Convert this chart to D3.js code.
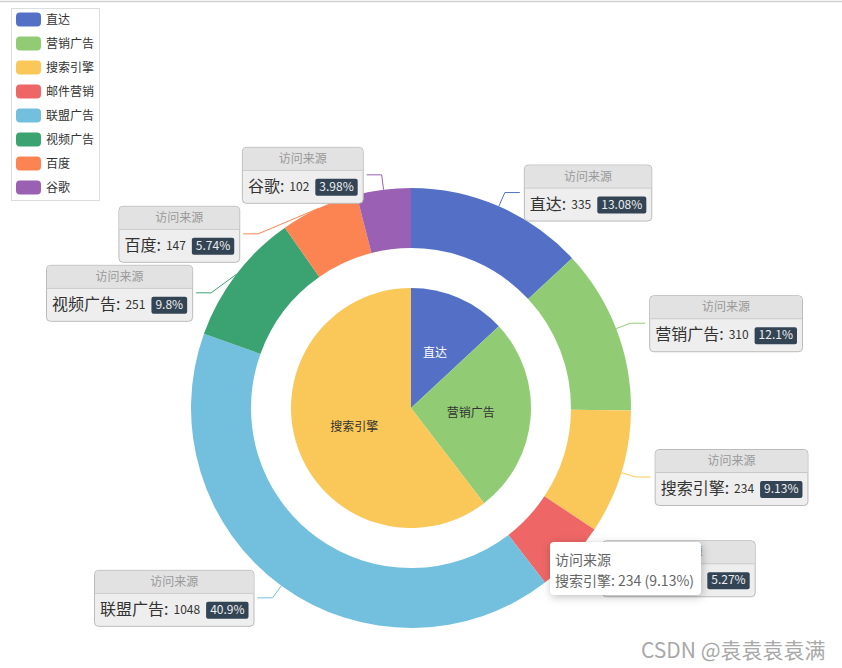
<!DOCTYPE html>
<html>
<head>
<meta charset="utf-8">
<script src="https://cdn.jsdelivr.net/npm/d3@7/dist/d3.min.js"></script>
<style>
  body { margin: 0; background: #fff; }
  svg { font-family: "Noto Sans CJK SC", "Noto Sans", sans-serif; }
</style>
</head>
<body>
<script>
const seriesName = "访问来源";
const innerNames = ["直达", "营销广告", "搜索引擎"];
const innerValues = [335, 679, 1548];
const outerNames = ["直达", "营销广告", "搜索引擎", "邮件营销", "联盟广告", "视频广告", "百度", "谷歌"];
const outerValues = [335, 310, 234, 135, 1048, 251, 147, 102];
const palette = ["#5470c6", "#91cc75", "#fac858", "#ee6666", "#73c0de", "#3ba272", "#fc8452", "#9a60b4"];
const hoverIndex = 2;          // slice under the mouse (tooltip)
const mouse = [540, 532];

const width = 842, height = 668;
const cx = 411, cy = 408;
const innerR = 120, ringR0 = 160, ringR1 = 220;

const color = d3.scaleOrdinal(outerNames, palette);

// percentages like echarts (largest remainder, 2 digits)
function percents(values) {
  const sum = d3.sum(values);
  const digits = 10000;
  const raw = values.map(v => v / sum * digits);
  const floors = raw.map(Math.floor);
  let left = digits - d3.sum(floors);
  const order = d3.range(raw.length).sort((a, b) => (raw[b] - floors[b]) - (raw[a] - floors[a]));
  for (let i = 0; i < left; i++) floors[order[i]]++;
  return floors.map(f => +(f / 100).toFixed(2));
}
const outerPer = percents(outerValues);

const svg = d3.select("body").append("svg")
  .attr("width", width).attr("height", height);

svg.append("line")
  .attr("x1", 0).attr("x2", width).attr("y1", 1.5).attr("y2", 1.5)
  .attr("stroke", "#d0d0d0").attr("stroke-width", 1.5);

const pie = d3.pie().sort(null).value(d => d.value);
const innerArcs = pie(innerNames.map((n, i) => ({ name: n, value: innerValues[i] })));
const outerArcs = pie(outerNames.map((n, i) => ({ name: n, value: outerValues[i], per: outerPer[i] })));

const g = svg.append("g").attr("transform", `translate(${cx},${cy})`);

// label layout
const len1 = 15, len2 = 15, boxH = 56, gapY = 59;
const labels = outerArcs.map(a => {
  const m = (a.startAngle + a.endAngle) / 2;
  const p0 = [Math.sin(m) * ringR1, -Math.cos(m) * ringR1];
  const p1 = [Math.sin(m) * (ringR1 + len1), -Math.cos(m) * (ringR1 + len1)];
  return { a, p0, p1, y: p1[1], right: p1[0] >= 0 };
});
[true, false].forEach(side => {
  const list = labels.filter(l => l.right === side).sort((a, b) => a.y - b.y);
  for (let i = 1; i < list.length; i++) {
    if (list[i].y < list[i - 1].y + gapY) {
      list[i].y = list[i - 1].y + gapY;
      const r = ringR1 + len1, dy = Math.min(Math.abs(list[i].y), r);
      const dx = Math.sqrt(r * r - dy * dy) - 5;
      list[i].p1 = [side ? dx : -dx, list[i].y];
    }
  }
});
labels.forEach(l => {
  l.p2 = [l.p1[0] + (l.right ? len2 : -len2), l.y];
});

// label lines (under the slices)
g.selectAll(".label-line").data(labels).join("polyline")
  .attr("class", "label-line")
  .attr("fill", "none")
  .attr("stroke", d => color(d.a.data.name))
  .attr("stroke-width", 1)
  .attr("points", d => [d.p0, d.p1, d.p2].map(p => p.join(",")).join(" "));

const ringArc = d3.arc().innerRadius(ringR0).outerRadius(ringR1);
g.selectAll(".ring").data(outerArcs).join("path")
  .attr("class", "ring")
  .attr("d", ringArc)
  .attr("fill", d => color(d.data.name));

const innerArc = d3.arc().innerRadius(0).outerRadius(innerR);
g.selectAll(".inner").data(innerArcs).join("path")
  .attr("class", "inner")
  .attr("d", innerArc)
  .attr("fill", d => color(d.data.name));

g.selectAll(".inner-label").data(innerArcs).join("text")
  .attr("class", "inner-label")
  .attr("transform", d => `translate(${innerArc.centroid(d)})`)
  .attr("text-anchor", "middle")
  .attr("dy", "0.35em")
  .attr("font-size", 12)
  .attr("fill", d => d3.lab(color(d.data.name)).l < 60 ? "#fff" : "#333")
  .text(d => d.data.name);

// rich labels
const boxes = g.selectAll(".box").data(labels).join("g").attr("class", "box");
boxes.each(function (d) {
  const box = d3.select(this);
  const pad = 6;
  const name = box.append("text").attr("font-size", 16).attr("fill", "#333")
    .text(d.a.data.name + ":");
  const nameW = name.node().getComputedTextLength();
  const val = box.append("text").attr("font-size", 12).attr("fill", "#333")
    .text(d.a.data.value);
  const valW = val.node().getComputedTextLength();
  const per = box.append("text").attr("font-size", 12).attr("fill", "#eee")
    .text(d.a.data.per + "%");
  const perW = per.node().getComputedTextLength();
  const w = pad + nameW + 5 + valW + pad + perW + 8 + pad - 1;
  const x0 = d.right ? d.p2[0] + 4 : d.p2[0] - 4 - w;
  const y0 = d.y - boxH / 2;

  box.insert("rect", ":first-child")
    .attr("x", x0 + 0.5).attr("y", y0 + 0.5).attr("width", w).attr("height", boxH)
    .attr("rx", 4).attr("fill", "#eee").attr("stroke", "#bbb");
  box.insert("path", "text")
    .attr("d", `M${x0 + 1},${y0 + 23} V${y0 + 5} Q${x0 + 1},${y0 + 1} ${x0 + 5},${y0 + 1} H${x0 + w - 4} Q${x0 + w},${y0 + 1} ${x0 + w},${y0 + 5} V${y0 + 23} Z`)
    .attr("fill", "#e2e2e2");
  box.insert("line", "text")
    .attr("x1", x0 + 1).attr("x2", x0 + w).attr("y1", y0 + 23.5).attr("y2", y0 + 23.5)
    .attr("stroke", "#c8c8c8");
  box.append("text").attr("x", x0 + w / 2 + 0.5).attr("y", y0 + 16)
    .attr("text-anchor", "middle").attr("font-size", 12).attr("fill", "#999")
    .text(seriesName);

  const by = y0 + 45;
  name.attr("x", x0 + pad).attr("y", by);
  val.attr("x", x0 + pad + nameW + 5).attr("y", by - 1);
  const px = x0 + pad + nameW + 5 + valW + pad;
  box.insert("rect", "text")
    .attr("x", px).attr("y", by - 13).attr("width", perW + 8).attr("height", 17)
    .attr("rx", 2).attr("fill", "#334455");
  per.attr("x", px + 4).attr("y", by - 1).raise();
});

// legend
const legend = svg.append("g");
legend.append("rect")
  .attr("x", 11.5).attr("y", 8.5).attr("width", 88).attr("height", 192)
  .attr("fill", "#fff").attr("stroke", "#ddd");
const items = legend.selectAll(".item").data(outerNames).join("g")
  .attr("class", "item")
  .attr("transform", (d, i) => `translate(16,${19.5 + i * 24})`);
items.append("rect")
  .attr("x", 0).attr("y", -7).attr("width", 25).attr("height", 14)
  .attr("rx", 4).attr("fill", d => color(d));
items.append("text")
  .attr("x", 30).attr("dy", "0.35em")
  .attr("font-size", 12).attr("fill", "#333")
  .text(d => d);

// tooltip
const tip = svg.append("g").attr("transform", `translate(${mouse[0] + 10},${mouse[1] + 10})`);
const hov = outerArcs[hoverIndex];
const t1 = tip.append("text").attr("x", 5).attr("y", 23).attr("font-size", 14).attr("fill", "#666")
  .text(seriesName);
const t2 = tip.append("text").attr("x", 5).attr("y", 44).attr("font-size", 14).attr("fill", "#666")
  .text(`${hov.data.name}: ${hov.data.value} (${hov.data.per}%)`);
const tw = Math.max(t1.node().getComputedTextLength(), t2.node().getComputedTextLength()) + 12;
tip.insert("rect", "text")
  .attr("width", tw).attr("height", 53).attr("rx", 4)
  .attr("fill", "#fff")
  .style("filter", "drop-shadow(1px 2px 4px rgba(0,0,0,0.25))");

// watermark
svg.append("text")
  .attr("x", 641).attr("y", 658)
  .attr("font-size", 21).attr("fill", "#a8a8a8")
  .text("CSDN @袁袁袁袁满");
</script>
</body>
</html>
